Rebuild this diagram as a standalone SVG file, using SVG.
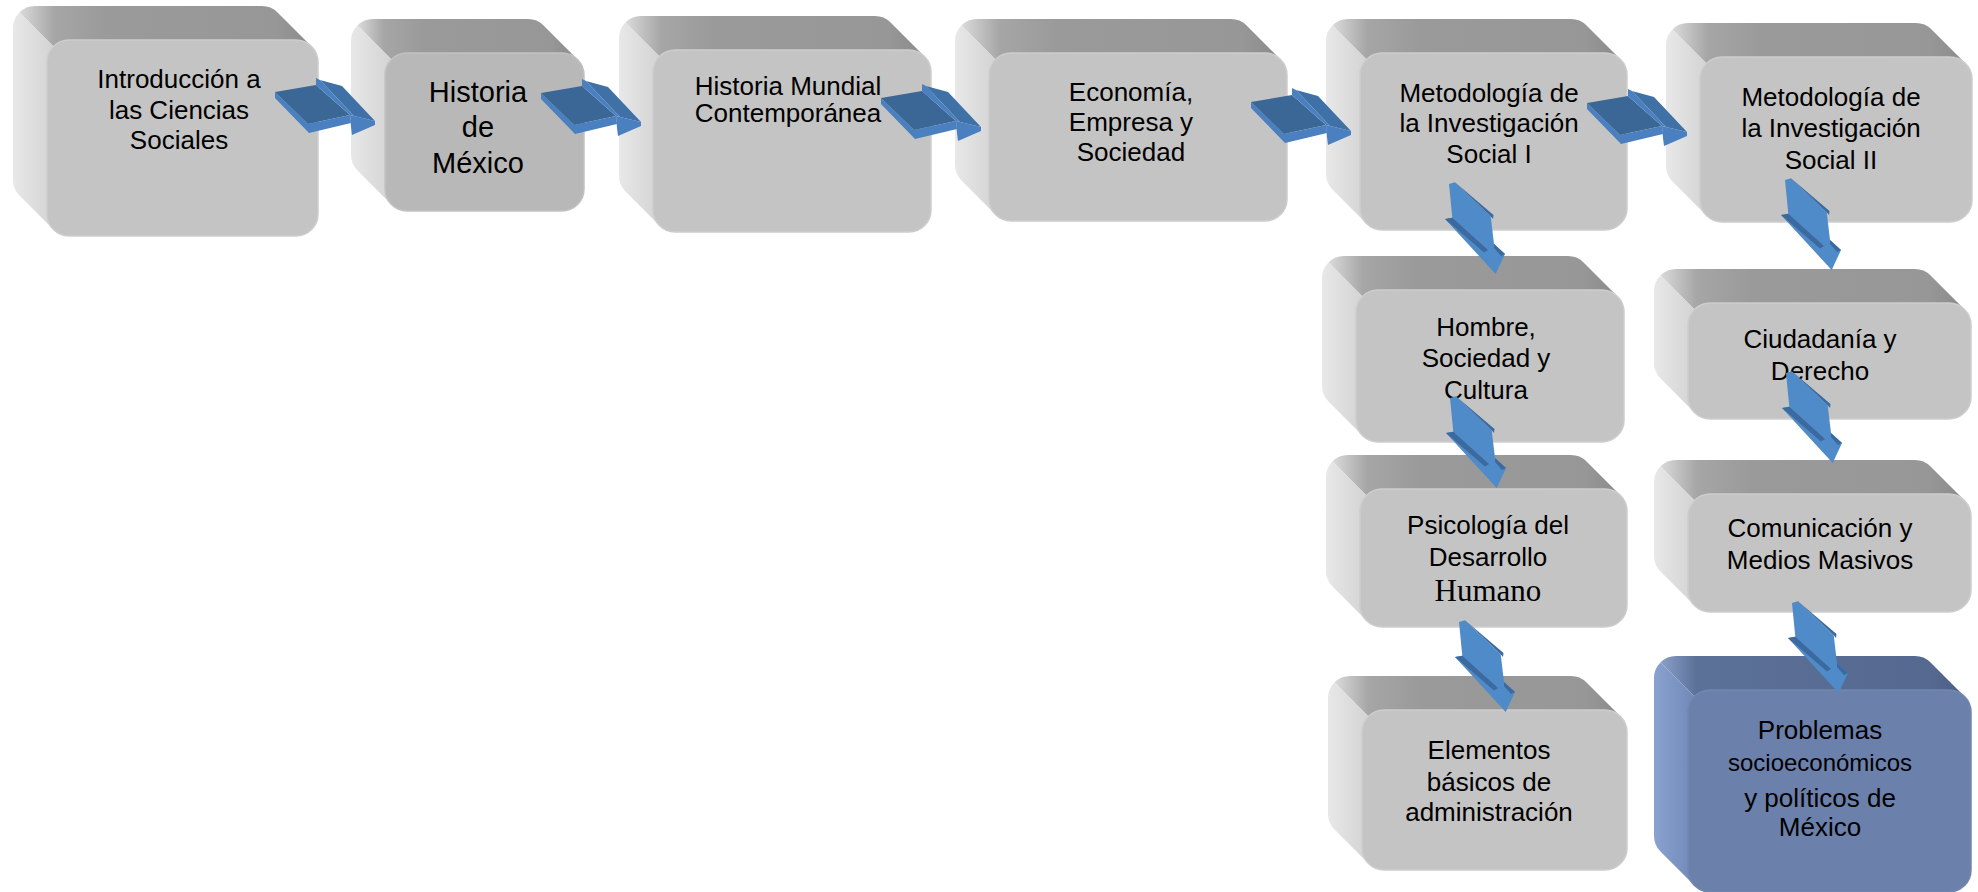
<svg xmlns="http://www.w3.org/2000/svg" xmlns:xlink="http://www.w3.org/1999/xlink" width="1978" height="892" viewBox="0 0 1978 892">
<defs>
<style>
.t{font-family:"Liberation Sans",Arial,sans-serif;font-size:26px;text-anchor:middle;fill:#000}
.top{fill:url(#gTop)}
.left{fill:url(#gLeft)}
.front{fill:#c4c4c4;stroke:#cdcdcd;stroke-width:1.5}
.front2{fill:#b8b8b8;stroke:#c2c2c2;stroke-width:1.5}
.btop{fill:url(#gBTop)}
.bleft{fill:url(#gBLeft)}
.bfront{fill:#6b80aa;stroke:#7386ae;stroke-width:1.5}
.adark{fill:#3b6796}
.amid{fill:#3f71a6}
.alight{fill:#4a80bf}
.vlight{fill:#4f8bc8}
.vdark{fill:#3c6a9e}
</style>
<linearGradient id="gTop" x1="0" y1="0" x2="1" y2="0">
<stop offset="0" stop-color="#dadada"/><stop offset="0.12" stop-color="#a6a6a6"/><stop offset="0.3" stop-color="#9a9a9a"/><stop offset="0.88" stop-color="#979797"/><stop offset="1" stop-color="#8a8a8a"/>
</linearGradient>
<linearGradient id="gLeft" x1="0" y1="0" x2="1" y2="0">
<stop offset="0" stop-color="#e8e8e8"/><stop offset="1" stop-color="#d3d3d3"/>
</linearGradient>
<linearGradient id="gBTop" x1="0" y1="0" x2="1" y2="0">
<stop offset="0" stop-color="#8a9fc9"/><stop offset="0.12" stop-color="#5c7198"/><stop offset="0.9" stop-color="#546890"/><stop offset="1" stop-color="#4b5e84"/>
</linearGradient>
<linearGradient id="gBLeft" x1="0" y1="0" x2="1" y2="0">
<stop offset="0" stop-color="#8aa2cf"/><stop offset="1" stop-color="#7089b8"/>
</linearGradient>
<g id="harrow">
<polygon class="alight" points="0,0 33,32 75,23 76,31 34,41 0,6"/>
<polygon class="adark" points="0,0 41,-7 75,23 33,32"/>
<polygon class="alight" points="41,-7 41,-14 45,-12 79,24 75,23"/>
<polygon class="amid" points="45,-12 67,-6 100,29 79,24"/>
<polygon class="alight" points="75,23 79,24 100,29 100,33 77,43 76,35"/>
</g>
<g id="varrow">
<polygon class="vlight" points="0,0 6,-1.7 41.7,32.3 45,60 56,70 46.7,90 -4,35 3.3,33.7"/>
<polygon class="vdark" points="6,-1.7 44.5,31 44,35 41.7,32.3"/>
<polygon class="vdark" points="-4,35 3.3,33.7 39,66 35,68.5"/>
<polygon class="vdark" points="45,60 56,70 52,72 45,64"/>
</g>
</defs>
<rect width="1978" height="892" fill="#ffffff"/>
<g id="nodes">
<g id="n1" transform="translate(47,40)">
<path class="top" d="M-27.56,-27.56A22,22 0 0 1 -12,-34L215,-34A22,22 0 0 1 230.56,-27.56L264.56,6.44A22,22 0 0 0 249,0L22,0A22,22 0 0 0 6.44,6.44Z"/>
<path class="left" d="M-34,-12A22,22 0 0 1 -27.56,-27.56L6.44,6.44A22,22 0 0 0 0,22L0,174A22,22 0 0 0 6.44,189.56L-27.56,155.56A22,22 0 0 1 -34,140Z"/>
<rect class="front" width="271" height="196" rx="22"/>
<text class="t" x="132" y="48">Introducción a</text>
<text class="t" x="132" y="79">las Ciencias</text>
<text class="t" x="132" y="109">Sociales</text>
</g>
<g id="n2" transform="translate(385,53)">
<path class="top" d="M-27.56,-27.56A22,22 0 0 1 -12,-34L143,-34A22,22 0 0 1 158.56,-27.56L192.56,6.44A22,22 0 0 0 177,0L22,0A22,22 0 0 0 6.44,6.44Z"/>
<path class="left" d="M-34,-12A22,22 0 0 1 -27.56,-27.56L6.44,6.44A22,22 0 0 0 0,22L0,136A22,22 0 0 0 6.44,151.56L-27.56,117.56A22,22 0 0 1 -34,102Z"/>
<rect class="front2" width="199" height="158" rx="22"/>
<text class="t" x="93" y="49" style="font-size:29px">Historia</text>
<text class="t" x="93" y="84" style="font-size:29px">de</text>
<text class="t" x="93" y="120" style="font-size:29px">México</text>
</g>
<g id="n3" transform="translate(653,50)">
<path class="top" d="M-27.56,-27.56A22,22 0 0 1 -12,-34L222,-34A22,22 0 0 1 237.56,-27.56L271.56,6.44A22,22 0 0 0 256,0L22,0A22,22 0 0 0 6.44,6.44Z"/>
<path class="left" d="M-34,-12A22,22 0 0 1 -27.56,-27.56L6.44,6.44A22,22 0 0 0 0,22L0,160A22,22 0 0 0 6.44,175.56L-27.56,141.56A22,22 0 0 1 -34,126Z"/>
<rect class="front" width="278" height="182" rx="22"/>
<text class="t" x="135" y="45">Historia Mundial</text>
<text class="t" x="135" y="72">Contemporánea</text>
</g>
<g id="n4" transform="translate(989,53)">
<path class="top" d="M-27.56,-27.56A22,22 0 0 1 -12,-34L242,-34A22,22 0 0 1 257.56,-27.56L291.56,6.44A22,22 0 0 0 276,0L22,0A22,22 0 0 0 6.44,6.44Z"/>
<path class="left" d="M-34,-12A22,22 0 0 1 -27.56,-27.56L6.44,6.44A22,22 0 0 0 0,22L0,146A22,22 0 0 0 6.44,161.56L-27.56,127.56A22,22 0 0 1 -34,112Z"/>
<rect class="front" width="298" height="168" rx="22"/>
<text class="t" x="142" y="48">Economía,</text>
<text class="t" x="142" y="78">Empresa y</text>
<text class="t" x="142" y="108">Sociedad</text>
</g>
<g id="n5" transform="translate(1360,53)">
<path class="top" d="M-27.56,-27.56A22,22 0 0 1 -12,-34L211,-34A22,22 0 0 1 226.56,-27.56L260.56,6.44A22,22 0 0 0 245,0L22,0A22,22 0 0 0 6.44,6.44Z"/>
<path class="left" d="M-34,-12A22,22 0 0 1 -27.56,-27.56L6.44,6.44A22,22 0 0 0 0,22L0,155A22,22 0 0 0 6.44,170.56L-27.56,136.56A22,22 0 0 1 -34,121Z"/>
<rect class="front" width="267" height="177" rx="22"/>
<text class="t" x="129" y="49">Metodología de</text>
<text class="t" x="129" y="79">la Investigación</text>
<text class="t" x="129" y="110">Social I</text>
</g>
<g id="n6" transform="translate(1700,57)">
<path class="top" d="M-27.56,-27.56A22,22 0 0 1 -12,-34L216,-34A22,22 0 0 1 231.56,-27.56L265.56,6.44A22,22 0 0 0 250,0L22,0A22,22 0 0 0 6.44,6.44Z"/>
<path class="left" d="M-34,-12A22,22 0 0 1 -27.56,-27.56L6.44,6.44A22,22 0 0 0 0,22L0,143A22,22 0 0 0 6.44,158.56L-27.56,124.56A22,22 0 0 1 -34,109Z"/>
<rect class="front" width="272" height="165" rx="22"/>
<text class="t" x="131" y="49">Metodología de</text>
<text class="t" x="131" y="80">la Investigación</text>
<text class="t" x="131" y="112">Social II</text>
</g>
<g id="n7" transform="translate(1356,290)">
<path class="top" d="M-27.56,-27.56A22,22 0 0 1 -12,-34L212,-34A22,22 0 0 1 227.56,-27.56L261.56,6.44A22,22 0 0 0 246,0L22,0A22,22 0 0 0 6.44,6.44Z"/>
<path class="left" d="M-34,-12A22,22 0 0 1 -27.56,-27.56L6.44,6.44A22,22 0 0 0 0,22L0,130A22,22 0 0 0 6.44,145.56L-27.56,111.56A22,22 0 0 1 -34,96Z"/>
<rect class="front" width="268" height="152" rx="22"/>
<text class="t" x="130" y="46">Hombre,</text>
<text class="t" x="130" y="77">Sociedad y</text>
<text class="t" x="130" y="109">Cultura</text>
</g>
<g id="n8" transform="translate(1688,303)">
<path class="top" d="M-27.56,-27.56A22,22 0 0 1 -12,-34L227,-34A22,22 0 0 1 242.56,-27.56L276.56,6.44A22,22 0 0 0 261,0L22,0A22,22 0 0 0 6.44,6.44Z"/>
<path class="left" d="M-34,-12A22,22 0 0 1 -27.56,-27.56L6.44,6.44A22,22 0 0 0 0,22L0,94A22,22 0 0 0 6.44,109.56L-27.56,75.56A22,22 0 0 1 -34,60Z"/>
<rect class="front" width="283" height="116" rx="22"/>
<text class="t" x="132" y="45">Ciudadanía y</text>
<text class="t" x="132" y="77">Derecho</text>
</g>
<g id="n9" transform="translate(1360,489)">
<path class="top" d="M-27.56,-27.56A22,22 0 0 1 -12,-34L211,-34A22,22 0 0 1 226.56,-27.56L260.56,6.44A22,22 0 0 0 245,0L22,0A22,22 0 0 0 6.44,6.44Z"/>
<path class="left" d="M-34,-12A22,22 0 0 1 -27.56,-27.56L6.44,6.44A22,22 0 0 0 0,22L0,116A22,22 0 0 0 6.44,131.56L-27.56,97.56A22,22 0 0 1 -34,82Z"/>
<rect class="front" width="267" height="138" rx="22"/>
<text class="t" x="128" y="45">Psicología del</text>
<text class="t" x="128" y="77">Desarrollo</text>
<text x="128" y="112" style="font-family:'Liberation Serif','Times New Roman',serif;font-size:31px;text-anchor:middle;fill:#000">Humano</text>
</g>
<g id="n10" transform="translate(1688,494)">
<path class="top" d="M-27.56,-27.56A22,22 0 0 1 -12,-34L227,-34A22,22 0 0 1 242.56,-27.56L276.56,6.44A22,22 0 0 0 261,0L22,0A22,22 0 0 0 6.44,6.44Z"/>
<path class="left" d="M-34,-12A22,22 0 0 1 -27.56,-27.56L6.44,6.44A22,22 0 0 0 0,22L0,96A22,22 0 0 0 6.44,111.56L-27.56,77.56A22,22 0 0 1 -34,62Z"/>
<rect class="front" width="283" height="118" rx="22"/>
<text class="t" x="132" y="43">Comunicación y</text>
<text class="t" x="132" y="75">Medios Masivos</text>
</g>
<g id="n11" transform="translate(1362,710)">
<path class="top" d="M-27.56,-27.56A22,22 0 0 1 -12,-34L209,-34A22,22 0 0 1 224.56,-27.56L258.56,6.44A22,22 0 0 0 243,0L22,0A22,22 0 0 0 6.44,6.44Z"/>
<path class="left" d="M-34,-12A22,22 0 0 1 -27.56,-27.56L6.44,6.44A22,22 0 0 0 0,22L0,138A22,22 0 0 0 6.44,153.56L-27.56,119.56A22,22 0 0 1 -34,104Z"/>
<rect class="front" width="265" height="160" rx="22"/>
<text class="t" x="127" y="49">Elementos</text>
<text class="t" x="127" y="81">básicos de</text>
<text class="t" x="127" y="111">administración</text>
</g>
<g id="n12" transform="translate(1688,690)">
<path class="btop" d="M-27.56,-27.56A22,22 0 0 1 -12,-34L227,-34A22,22 0 0 1 242.56,-27.56L276.56,6.44A22,22 0 0 0 261,0L22,0A22,22 0 0 0 6.44,6.44Z"/>
<path class="bleft" d="M-34,-12A22,22 0 0 1 -27.56,-27.56L6.44,6.44A22,22 0 0 0 0,22L0,180A22,22 0 0 0 6.44,195.56L-27.56,161.56A22,22 0 0 1 -34,146Z"/>
<rect class="bfront" width="283" height="202" rx="22"/>
<text class="t" x="132" y="49">Problemas</text>
<text class="t" x="132" y="81" style="font-size:24px">socioeconómicos</text>
<text class="t" x="132" y="117">y políticos de</text>
<text class="t" x="132" y="146">México</text>
</g>
</g>
<g id="connectors">
<use xlink:href="#harrow" href="#harrow" transform="translate(275,92)"/>
<use xlink:href="#harrow" href="#harrow" transform="translate(541,93)"/>
<use xlink:href="#harrow" href="#harrow" transform="translate(881,98)"/>
<use xlink:href="#harrow" href="#harrow" transform="translate(1251,102)"/>
<use xlink:href="#harrow" href="#harrow" transform="translate(1587,103)"/>
<use xlink:href="#varrow" href="#varrow" transform="translate(1449,184)"/>
<use xlink:href="#varrow" href="#varrow" transform="translate(1450,398)"/>
<use xlink:href="#varrow" href="#varrow" transform="translate(1459,622)"/>
<use xlink:href="#varrow" href="#varrow" transform="translate(1785,180)"/>
<use xlink:href="#varrow" href="#varrow" transform="translate(1786,373)"/>
<use xlink:href="#varrow" href="#varrow" transform="translate(1792,603)"/>
</g>
</svg>
